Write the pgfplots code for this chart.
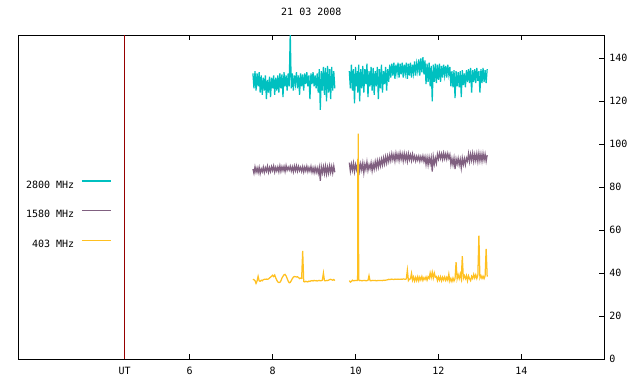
\documentclass[border=0pt]{standalone}
\usepackage{fontspec}
\setmainfont{DejaVu Sans Mono}
\usepackage{pgfplots}
\usepackage{pgfplotstable}
\pgfplotsset{compat=1.18}
\definecolor{c2800}{RGB}{0,192,192}
\definecolor{c1580}{RGB}{128,96,128}
\definecolor{c403}{RGB}{255,192,32}
\definecolor{cut}{RGB}{150,0,0}
\newcommand\gf{\fontsize{10bp}{12bp}\selectfont}
\pgfplotstableread{
x c p o
7.525 133 88.5 37.2
7.550 126 86.5 37.0
7.575 134 89.5 36.6
7.600 125 87.0 35.3
7.625 133 89.0 36.4
7.650 127 86.8 38.6
7.675 133.5 89.3 36.5
7.700 124 86.4 36.3
7.725 132 88.6 36.8
7.750 123 87.2 36.5
7.775 131 89.4 37.0
7.800 125 86.9 37.2
7.825 132 89.1 37.2
7.850 121 87.5 37.3
7.875 130 89.8 37.2
7.900 124 87.0 37.4
7.925 131.5 89.2 37.8
7.950 122 87.3 38.2
7.975 131 89.6 38.6
8.000 126 87.8 39.1
8.025 132 89.9 38.5
8.050 123 87.1 39.2
8.075 131 89.3 37.9
8.100 125 87.6 36.8
8.125 132 89.5 36.0
8.150 124 87.2 35.7
8.175 133 90.0 35.8
8.200 126 87.4 36.5
8.225 132.5 89.6 37.8
8.250 122 87.8 38.6
8.275 133.5 89.7 39.3
8.300 127 87.3 39.5
8.325 132 90.1 38.8
8.350 125 87.9 37.6
8.375 133 89.4 36.4
8.400 127 88.0 35.6
8.425 152 89.8 35.7
8.450 126 87.6 36.6
8.475 133 89.5 37.5
8.500 125 87.2 38.2
8.525 132 89.9 38.5
8.550 128 87.7 38.4
8.575 133.5 90.0 38.3
8.600 126 87.5 38.4
8.625 132 89.7 38.0
8.650 123 87.8 37.5
8.675 133 89.3 37.8
8.700 127 87.4 37.6
8.725 132.5 89.6 50.4
8.750 125 87.1 36.2
8.775 133 89.4 36.0
8.800 128 87.6 36.3
8.825 133.5 89.8 36.1
8.850 127 87.3 36.0
8.875 132 89.2 36.4
8.900 121 87.5 36.2
8.925 133 89.7 36.5
8.950 128 87.0 36.6
8.975 133.5 89.1 36.4
9.000 127 86.8 36.7
9.025 132 89.3 36.5
9.050 126 86.9 36.6
9.075 133 89.0 36.4
9.100 124 86.5 36.6
9.125 135 89.2 36.7
9.150 116 83.0 36.5
9.175 134 89.5 36.6
9.200 125 86.7 36.8
9.225 136 89.6 40.1
9.250 123 86.4 36.6
9.275 135.5 89.8 36.5
9.300 120 86.2 36.7
9.325 136.5 89.4 36.6
9.350 124 86.6 36.8
9.375 135 90.0 37.1
9.400 121 86.9 37.2
9.425 136 89.7 37.0
9.450 125 86.7 36.8
9.475 134 89.9 37.1
9.500 126 87.0 36.6
9.675 nan nan nan
9.850 134 91.5 36.6
9.875 126 87.5 35.9
9.900 137 90.8 36.2
9.925 125 88.0 36.8
9.950 135 91.2 36.5
9.975 119 87.3 36.6
10.000 136 90.5 36.7
10.025 127 88.2 36.6
10.050 134 91.0 36.7
10.056 124 88.0 93.0
10.060 133 90.6 36.8
10.063 126 88.4 105
10.066 131 89.6 93.5
10.069 128 88.9 37.0
10.072 132 90.2 92.5
10.075 137 91.6 37.0
10.100 120 87.6 36.6
10.125 135 90.9 36.7
10.150 126 88.1 36.5
10.175 136.5 91.3 36.6
10.200 124 86.8 36.6
10.225 135 90.7 36.7
10.250 128 88.3 36.5
10.275 137.5 91.8 36.6
10.300 122 87.9 36.7
10.325 134 90.5 38.9
10.350 127 88.6 36.6
10.375 136 91.4 36.5
10.400 125 87.7 36.7
10.425 135.5 91.0 36.6
10.450 123 88.5 36.6
10.475 134 91.9 36.7
10.500 127 89.0 36.5
10.525 136 92.3 36.6
10.550 121 89.4 36.7
10.575 135 92.6 36.6
10.600 126 90.0 36.6
10.625 137 93.1 36.7
10.650 124 90.4 36.6
10.675 134 93.6 36.8
10.700 128 90.9 36.7
10.725 136 94.2 36.8
10.750 125 91.3 36.9
10.775 135 94.5 37.0
10.800 129 92.0 37.2
10.825 137 95.0 37.1
10.850 131 92.4 37.2
10.875 137.5 95.6 37.3
10.900 132 92.8 37.2
10.925 138 95.2 37.1
10.950 130.5 92.2 37.3
10.975 137 95.8 37.2
11.000 133 92.9 37.2
11.025 138 95.4 37.3
11.050 131 92.5 37.2
11.075 137.5 95.9 37.2
11.100 132.5 93.0 37.3
11.125 138 95.5 37.2
11.150 131 92.3 37.4
11.175 137 95.7 37.3
11.200 133 92.7 37.2
11.225 138 95.3 37.4
11.250 130.5 92.1 41.5
11.275 137.5 95.6 36.6
11.300 132 92.9 37.3
11.325 138 95.1 37.4
11.350 131 92.4 40.0
11.375 137 95.4 36.8
11.400 133 92.8 38.3
11.425 138.5 94.6 36.4
11.450 132 92.2 38.1
11.475 137.5 94.4 36.6
11.500 134 92.6 38.4
11.525 139.5 94.5 36.5
11.550 132 92.1 38.2
11.575 140 94.3 36.9
11.600 133.5 92.4 38.5
11.625 140.5 94.6 36.7
11.650 132.5 92.0 38.0
11.675 139 94.2 37.1
11.700 128 90.6 38.3
11.725 137.5 93.9 36.8
11.750 129 90.4 38.4
11.775 138 94.0 37.6
11.800 127 91.0 40.2
11.825 136.5 93.8 38.0
11.850 120 87.3 40.5
11.875 137 94.2 37.8
11.900 129 90.8 40.1
11.925 137.5 93.6 38.2
11.950 128.5 91.2 38.5
11.975 137 95.4 36.6
12.000 130 93.2 38.3
12.025 137.5 95.8 36.8
12.050 129 93.4 38.4
12.075 136.5 95.6 36.5
12.100 131 93.0 38.2
12.125 137 95.9 36.9
12.150 132 93.3 38.3
12.175 136.5 95.5 36.7
12.200 131 93.1 38.1
12.225 137 95.7 36.8
12.250 132.5 93.5 39.6
12.275 136 95.2 36.3
12.300 127 90.6 37.6
12.325 134 93.4 36.2
12.350 126.5 90.5 37.8
12.375 134.5 93.6 36.4
12.400 121.5 88.5 37.5
12.425 134 93.2 45.2
12.450 127 90.8 37.4
12.475 133.5 93.5 39.3
12.500 126.5 90.4 37.5
12.525 134 93.0 39.6
12.550 122 89.0 37.4
12.575 134.5 93.6 48.0
12.600 127.5 90.6 37.6
12.625 133 93.3 38.9
12.650 126.5 90.5 37.5
12.675 134.5 93.6 39.0
12.700 129 92.2 36.5
12.725 135 95.6 38.8
12.750 128.5 92.0 37.5
12.775 135.5 95.4 36.6
12.800 124 92.5 38.6
12.825 134.5 95.8 37.6
12.850 129 92.1 39.5
12.875 135 95.3 37.8
12.900 128.5 92.4 39.3
12.925 135.5 95.6 37.6
12.950 129.5 92.0 39.0
12.975 134 95.8 57.5
13.000 124 92.3 37.8
13.025 135 95.5 38.9
13.050 128.5 92.2 37.6
13.075 135.5 95.7 38.7
13.100 129 92.6 37.5
13.125 134.5 95.4 38.8
13.150 128.5 92.1 51.3
13.175 135 95.0 38.5
}\data
\begin{document}
\begin{tikzpicture}
\begin{axis}[
  name=ax,
  scale only axis,
  width=586bp, height=324bp,
  xmin=1.866, xmax=16,
  ymin=0, ymax=150.7,
  axis line style={line width=1bp},
  tick style={black, line width=1bp},
  major tick length=5bp,
  tick align=inside,
  xtick={6,8,10,12,14},
  extra x ticks={4.43},
  extra x tick labels={UT},
  extra x tick style={major tick length=0pt},
  xtick pos=both,
  xticklabel pos=bottom,
  ytick={0,20,...,140},
  ytick pos=right,
  yticklabel pos=right,
  /pgf/number format/assume math mode=true,
  every tick label/.append style={font=\gf},
  xticklabel style={yshift=-4bp},
  yticklabel style={xshift=1.5bp},
  title={21 03 2008},
  title style={font=\gf, at={(0.5,1)}, anchor=center, yshift=17bp},
  unbounded coords=jump,
  legend plot pos=right,
  legend cell align=right,
  legend image code/.code={\draw[#1,line width=1.2bp] (0bp,3.6bp) -- (29bp,3.6bp);},
  legend style={draw=none, fill=none, font=\gf, at={(axis cs:4.111,67.6)}, anchor=east,
    inner sep=0pt, outer sep=0pt, row sep=21.7bp, column sep=7bp,
    nodes={inner sep=0pt, outer sep=0pt, text height=7.3bp, text depth=0pt}},
]
\addplot[c2800, line width=1.25bp] table[x=x,y=c]{\data};
\addlegendentry{2800 MHz}
\addplot[c1580, line width=1.25bp] table[x=x,y=p]{\data};
\addlegendentry{1580 MHz}
\addplot[c403, line width=1.25bp] table[x=x,y=o]{\data};
\addlegendentry{403 MHz}
\addplot[cut, line width=1bp, forget plot] coordinates {(4.43,0) (4.43,150.7)};
\end{axis}
\pgfresetboundingbox
\path[use as bounding box] ([xshift=-18.3bp,yshift=-24.7bp]ax.south west) rectangle ([xshift=35.7bp,yshift=35.3bp]ax.north east);
\end{tikzpicture}
\end{document}
